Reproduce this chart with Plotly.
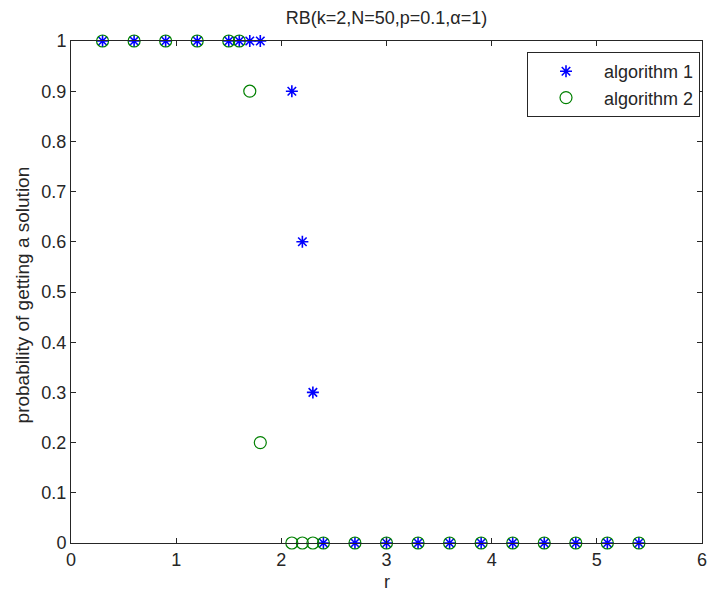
import plotly.graph_objects as go

r_alg1 = [0.3, 0.6, 0.9, 1.2, 1.5, 1.6, 1.7, 1.8, 2.1, 2.2, 2.3,
          2.4, 2.7, 3.0, 3.3, 3.6, 3.9, 4.2, 4.5, 4.8, 5.1, 5.4]
p_alg1 = [1, 1, 1, 1, 1, 1, 1, 1, 0.9, 0.6, 0.3,
          0, 0, 0, 0, 0, 0, 0, 0, 0, 0, 0]
r_alg2 = [0.3, 0.6, 0.9, 1.2, 1.5, 1.6, 1.7, 1.8, 2.1, 2.2, 2.3,
          2.4, 2.7, 3.0, 3.3, 3.6, 3.9, 4.2, 4.5, 4.8, 5.1, 5.4]
p_alg2 = [1, 1, 1, 1, 1, 1, 0.9, 0.2, 0, 0, 0,
          0, 0, 0, 0, 0, 0, 0, 0, 0, 0, 0]

x_ticks = [0, 1, 2, 3, 4, 5, 6]
y_ticks = [0, 0.1, 0.2, 0.3, 0.4, 0.5, 0.6, 0.7, 0.8, 0.9, 1]
y_tick_labels = ["0", "0.1", "0.2", "0.3", "0.4", "0.5", "0.6", "0.7", "0.8", "0.9", "1"]

title_text = "RB(k=2,N=50,p=0.1,α=1)"
x_label = "r"
y_label = "probability of getting a solution"

FONT = "Liberation Sans, Arial, sans-serif"
TXT = "#262626"
FS = 18

fig = go.Figure()
fig.add_trace(go.Scatter(
    x=r_alg1, y=p_alg1, mode="markers", name="algorithm 1",
    cliponaxis=False,
    marker=dict(symbol="asterisk-open", size=10, color="#0000FF",
                line=dict(color="#0000FF", width=1.6)),
))
fig.add_trace(go.Scatter(
    x=r_alg2, y=p_alg2, mode="markers", name="algorithm 2",
    cliponaxis=False,
    marker=dict(symbol="circle-open", size=12, color="#008000",
                line=dict(color="#008000", width=1.2)),
))

axis_common = dict(
    showgrid=False, zeroline=False, showline=True, linecolor=TXT,
    linewidth=1, mirror="allticks", ticks="inside", ticklen=5,
    tickcolor=TXT, tickfont=dict(family=FONT, size=FS, color=TXT),
    automargin=False,
)

# page body has an 8px margin: shrink figure and margins accordingly
fig.update_layout(
    template="none",
    width=707, height=583,
    margin=dict(l=63, r=13, t=33, b=48, pad=0),
    paper_bgcolor="white", plot_bgcolor="white",
    font=dict(family=FONT, size=FS, color=TXT),
    title=dict(text=title_text, xref="paper", x=0.5, xanchor="center",
               yref="container", y=1 - 10 / 583, yanchor="middle",
               font=dict(family=FONT, size=FS, color=TXT)),
    xaxis=dict(range=[0, 6], tickvals=x_ticks, **axis_common),
    yaxis=dict(range=[0, 1], tickvals=y_ticks, ticktext=y_tick_labels, **axis_common),
    legend=dict(x=(700 - 71) / 631, xanchor="right", y=1 - (52 - 41) / 502, yanchor="top",
                bordercolor=TXT, borderwidth=1, bgcolor="white",
                font=dict(family=FONT, size=FS, color=TXT),
                itemwidth=66, tracegroupgap=0),
    showlegend=True,
    annotations=[
        dict(text=x_label, xref="paper", yref="paper", x=0.5, y=-0.101,
             xanchor="center", yanchor="bottom", showarrow=False,
             font=dict(family=FONT, size=FS, color=TXT)),
        dict(text=y_label, xref="paper", yref="paper", x=-0.077, y=0.494,
             xanchor="center", yanchor="middle", textangle=-90, showarrow=False,
             font=dict(family=FONT, size=19, color=TXT)),
    ],
)

fig.write_html("out.html")
